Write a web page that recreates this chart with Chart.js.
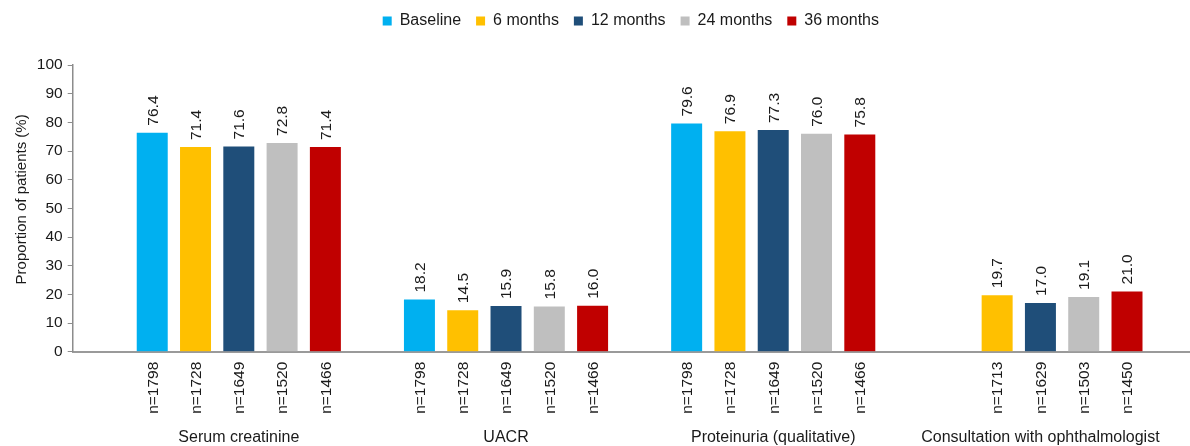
<!DOCTYPE html>
<html lang="en">
<head>
<meta charset="UTF-8">
<title>Proportion of patients with renal and eye assessments</title>
<script src="https://cdn.jsdelivr.net/npm/chart.js@4"></script>
<style>
  html, body { margin: 0; padding: 0; background: #fff; }
  #wrap { position: relative; width: 1190px; height: 446px; }
</style>
</head>
<body>
<div id="wrap"><canvas id="chart"></canvas></div>
<script>
// groups along the x axis
const categories = ['Serum creatinine', 'UACR', 'Proteinuria (qualitative)', 'Consultation with ophthalmologist'];

// visits, one bar per visit inside each group
const seriesNames = ['Baseline', '6 months', '12 months', '24 months', '36 months'];
const seriesColors = ['#00b0f0', '#ffc000', '#1f4e79', '#bfbfbf', '#c00000'];

// proportion of patients (%)
const baseline  = [76.4, 18.2, 79.6, null];
const month6    = [71.4, 14.5, 76.9, 19.7];
const month12   = [71.6, 15.9, 77.3, 17.0];
const month24   = [72.8, 15.8, 76.0, 19.1];
const month36   = [71.4, 16.0, 75.8, 21.0];

// number of patients behind each bar
const nBaseline = [1798, 1798, 1798, null];
const n6        = [1728, 1728, 1728, 1713];
const n12       = [1649, 1649, 1649, 1629];
const n24       = [1520, 1520, 1520, 1503];
const n36       = [1466, 1466, 1466, 1450];

const yMin = 0, yMax = 100, yStep = 10;
const yTitle = 'Proportion of patients (%)';

const values = [baseline, month6, month12, month24, month36];
const sizes = [nBaseline, n6, n12, n24, n36];

const FONT = '"Liberation Sans", Arial, sans-serif';
const INK = '#1a1a1a';

// push the plot down below the legend
const legendGap = {
  id: 'legendGap',
  beforeInit(chart) {
    const fit = chart.legend.fit;
    chart.legend.fit = function () {
      fit.call(this);
      this.height = 67;
    };
  }
};

// value on top of each bar, n= under the axis, group name at the bottom,
// and the y axis title sitting a little above the middle of the axis
const barText = {
  id: 'barText',
  afterDatasetsDraw(chart) {
    const ctx = chart.ctx;
    const area = chart.chartArea;
    const bottom = area.bottom;
    ctx.save();
    ctx.fillStyle = INK;
    ctx.textBaseline = 'middle';
    ctx.font = '15.5px ' + FONT;
    chart.data.datasets.forEach((ds, di) => {
      const meta = chart.getDatasetMeta(di);
      meta.data.forEach((bar, i) => {
        const v = ds.data[i];
        if (v == null) return;
        ctx.save();
        ctx.translate(bar.x + 1, bar.y - 7);
        ctx.rotate(-Math.PI / 2);
        ctx.textAlign = 'left';
        ctx.fillText(v.toFixed(1), 0, 0);
        ctx.restore();

        ctx.save();
        ctx.translate(bar.x + 1, bottom + 10);
        ctx.rotate(-Math.PI / 2);
        ctx.textAlign = 'right';
        ctx.fillText('n=' + sizes[di][i], 0, 0);
        ctx.restore();
      });
    });

    const xs = chart.scales.x;
    ctx.font = '16px ' + FONT;
    ctx.textAlign = 'center';
    ctx.textBaseline = 'alphabetic';
    categories.forEach((name, i) => {
      ctx.fillText(name, xs.getPixelForValue(i), bottom + 90);
    });

    const ys = chart.scales.y;
    ctx.font = '15px ' + FONT;
    ctx.textBaseline = 'middle';
    ctx.translate(ys.left - 10, (area.top + area.bottom) / 2 - 9);
    ctx.rotate(-Math.PI / 2);
    ctx.fillText(yTitle, 0, 0);
    ctx.restore();
  }
};

new Chart(document.getElementById('chart'), {
  type: 'bar',
  data: {
    labels: categories.map((_, i) => i),
    datasets: seriesNames.map((name, k) => ({
      label: name,
      data: values[k],
      backgroundColor: seriesColors[k],
      borderWidth: 0,
      categoryPercentage: 0.81,
      barPercentage: 0.716
    }))
  },
  options: {
    responsive: true,
    maintainAspectRatio: false,
    animation: false,
    layout: { padding: { top: -2, left: 31.85, right: 1, bottom: 0 } },
    plugins: {
      tooltip: { enabled: false },
      legend: {
        position: 'top',
        fullSize: false,
        labels: {
          boxWidth: 9,
          boxHeight: 9,
          padding: 15,
          color: INK,
          font: { family: FONT, size: 16 }
        }
      }
    },
    scales: {
      x: {
        type: 'linear',
        min: -0.6216,
        max: 3.556,
        offset: false,
        z: 1,
        ticks: { display: false, stepSize: 1, includeBounds: false },
        grid: { display: false, offset: false },
        border: { display: true, color: '#9a9a9a', width: 2 },
        afterFit(scale) { scale.height = 94.3; }
      },
      y: {
        min: yMin,
        max: yMax,
        ticks: {
          stepSize: yStep,
          padding: 5,
          color: INK,
          font: { family: FONT, size: 15.5 }
        },
        grid: { drawOnChartArea: false, tickLength: 5, color: '#8c8c8c', lineWidth: 1 },
        border: { color: '#8c8c8c', width: 1.5 },
        title: { display: false }
      }
    }
  },
  plugins: [legendGap, barText]
});
</script>
</body>
</html>
